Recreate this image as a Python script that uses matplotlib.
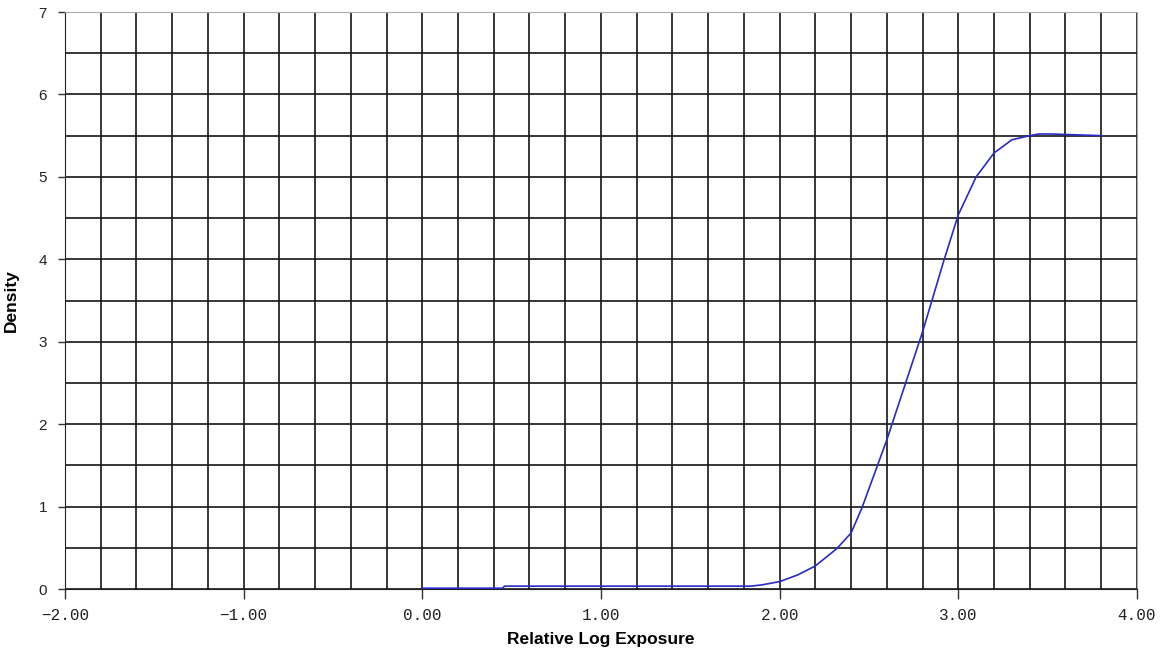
import numpy as np
import matplotlib
matplotlib.use("Agg")
import matplotlib.pyplot as plt
from matplotlib.ticker import MultipleLocator, FuncFormatter

# ==========================================
# DATA
# ==========================================

log_exposure = [0.0, 0.45, 0.46, 1.0, 1.6, 1.84, 1.9, 2.0, 2.1, 2.2, 2.32,
                2.4, 2.46, 2.6, 2.8, 2.92, 3.0, 3.1, 3.2, 3.3, 3.4, 3.45,
                3.52, 3.8]
density = [0.01, 0.01, 0.035, 0.035, 0.035, 0.035, 0.05, 0.09, 0.17, 0.28,
           0.49, 0.68, 0.98, 1.81, 3.12, 3.99, 4.54, 5.0, 5.29, 5.45, 5.50,
           5.52, 5.52, 5.50]

x_label = "Relative Log Exposure"
y_label = "Density"

# ==========================================
# FIGURE
# ==========================================

fig = plt.figure(figsize=(11.66, 6.56), dpi=100)
ax = fig.add_axes([0.0557, 0.1021, 0.9194, 0.8796])

ax.plot(log_exposure, density, color="#2a2ac8", linewidth=1.2, zorder=3)

ax.set_xlim(-2, 4)
ax.set_ylim(0, 7)

ax.xaxis.set_major_locator(MultipleLocator(1))
ax.xaxis.set_minor_locator(MultipleLocator(0.2))
ax.yaxis.set_major_locator(MultipleLocator(1))
ax.yaxis.set_minor_locator(MultipleLocator(0.5))

ax.xaxis.set_major_formatter(FuncFormatter(lambda v, p: f"{v:.2f}".replace("-", "\u2212")))
ax.yaxis.set_major_formatter(FuncFormatter(lambda v, p: f"{v:.0f}"))

ax.grid(True, which="both", color="#151515", linewidth=1.2, zorder=1)
ax.set_axisbelow(True)

ax.tick_params(axis="x", which="major", length=7, width=1, color="#333333",
               pad=7, labelsize=11.5, labelcolor="#222222")
ax.tick_params(axis="y", which="major", length=5, width=1, color="#333333",
               pad=8, labelsize=11, labelcolor="#222222")
ax.tick_params(which="minor", length=0)

for lab in ax.get_xticklabels():
    lab.set_family("Liberation Mono")
for lab in ax.get_yticklabels():
    lab.set_family("Liberation Sans")

ax.spines["left"].set_color("#222222")
ax.spines["bottom"].set_color("#222222")
ax.spines["top"].set_color("#aaaaaa")
ax.spines["right"].set_color("#aaaaaa")

ax.set_xlabel(x_label, family="Liberation Sans", fontweight="bold",
              fontsize=12.5, labelpad=6)
ax.set_ylabel(y_label, family="Liberation Sans", fontweight="bold",
              fontsize=12.5, labelpad=14)

fig.savefig("out.png", dpi=100, facecolor="white")
